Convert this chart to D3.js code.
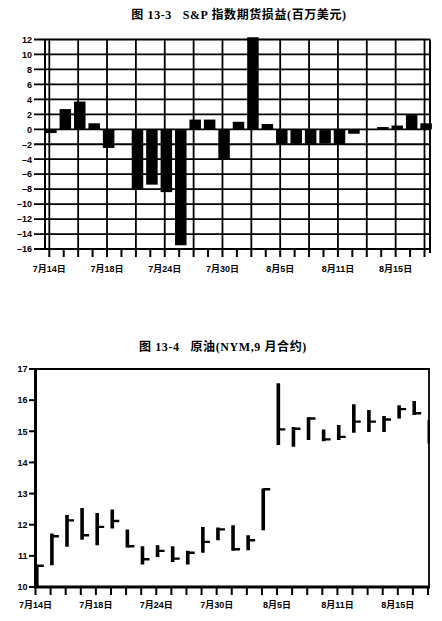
<!DOCTYPE html>
<html><head><meta charset="utf-8">
<script src="https://cdn.jsdelivr.net/npm/d3@7"></script>
<style>
html,body{margin:0;padding:0;background:#fff;}
svg{display:block;}
.t{font-family:"Liberation Serif","Noto Sans CJK SC",serif;font-weight:bold;font-size:12px;fill:#000;}
.lab{font-family:"Liberation Sans","Noto Sans CJK SC",sans-serif;font-weight:bold;font-size:9px;fill:#000;}
</style></head><body>
<script>
// ---- data ----
const days = ["7/14","7/15","7/16","7/17","7/18","7/21","7/22","7/23","7/24","7/25","7/28","7/29","7/30","7/31","8/1","8/4","8/5","8/6","8/7","8/8","8/11","8/12","8/13","8/14","8/15","8/18","8/19"];
const labelDays = ["7/14","7/18","7/24","7/30","8/5","8/11","8/15"];
const tickLabels = ["7月14日","7月18日","7月24日","7月30日","8月5日","8月11日","8月15日"];
const spPnl = [-0.5,2.7,3.7,0.8,-2.5,0,-8.1,-7.4,-8.4,-15.5,1.3,1.3,-4.1,1.0,12.3,0.7,-2.0,-2.0,-2.0,-1.9,-2.0,-0.6,0,0.3,0.5,1.9,0.8];
const spTicks = [12,10,8,6,4,2,0,-2,-4,-6,-8,-10,-12,-14,-16];
const oilHigh  = [10.7,11.72,12.31,12.54,12.38,12.49,11.85,11.31,11.34,11.31,11.16,11.93,11.91,11.98,11.66,13.16,16.54,15.14,15.45,15.06,15.2,15.87,15.68,15.49,15.84,15.97,15.36];
const oilLow   = [10.0,10.7,11.29,11.52,11.34,11.88,11.27,10.72,10.96,10.8,10.72,11.1,11.5,11.16,11.18,11.82,14.56,14.5,14.72,14.68,14.72,14.95,14.98,14.98,15.41,15.52,14.61];
const oilClose = [10.68,11.63,12.14,11.66,11.93,12.12,11.31,10.89,11.16,10.91,11.10,11.45,11.85,11.21,11.50,13.14,15.06,15.08,15.41,14.74,14.82,15.31,15.31,15.38,15.71,15.58,14.9];
const oilTicks = [10,11,12,13,14,15,16,17];
const title1 = "图 13-3\u00a0\u00a0\u00a0S&P 指数期货损益(百万美元)";
const title2 = "图 13-4\u00a0\u00a0\u00a0原油(NYM,9 月合约)";

const svg = d3.select("body").append("svg").attr("width",442).attr("height",621);
const idx = days.map((d,i)=>i);

// ---- chart 1 ----
{
  const x = d3.scaleLinear().domain([0,26]).range([49.3,424.5]);
  const y = d3.scaleLinear().domain([-16,12]).range([249,39.5]);
  const g = svg.append("g");
  const L = 45, R = 430;
  svg.append("text").attr("class","t").attr("x",239).attr("y",19).attr("text-anchor","middle")
     .attr("letter-spacing","0.6").text(title1);
  // horizontal grid
  g.selectAll("line.h").data(spTicks).join("line")
    .attr("x1",34).attr("x2",R).attr("y1",d=>y(d)).attr("y2",d=>y(d))
    .attr("stroke","#000").attr("stroke-width",d=>d===12||d===-16?2.2:1.8);
  // vertical grid every 2 days
  g.selectAll("line.v").data(idx.filter(i=>i%2===0)).join("line")
    .attr("x1",d=>x(d)).attr("x2",d=>x(d)).attr("y1",y(12)).attr("y2",y(-16))
    .attr("stroke","#000").attr("stroke-width",1.8);
  // frame sides
  g.append("line").attr("x1",L).attr("x2",L).attr("y1",y(12)).attr("y2",y(-16)).attr("stroke","#000").attr("stroke-width",2);
  g.append("line").attr("x1",R).attr("x2",R).attr("y1",y(12)).attr("y2",y(-16)+4).attr("stroke","#000").attr("stroke-width",2);
  // bottom ticks
  g.selectAll("line.bt").data(idx).join("line")
    .attr("x1",d=>x(d)).attr("x2",d=>x(d)).attr("y1",y(-16)).attr("y2",y(-16)+8)
    .attr("stroke","#000").attr("stroke-width",2);
  // bars
  const bw = 11.5, off = 1.6;
  g.selectAll("rect.b").data(spPnl).join("rect")
    .attr("x",(d,i)=>x(i)+off-bw/2).attr("width",bw)
    .attr("y",d=>y(Math.max(0,d))).attr("height",d=>Math.abs(y(d)-y(0)))
    .attr("fill","#000");
  // y labels
  g.selectAll("text.yl").data(spTicks).join("text").attr("class","lab")
    .attr("x",32).attr("y",d=>y(d)+3.3).attr("text-anchor","end")
    .text(d=>d<0?"\u2013"+Math.abs(d):d);
  // x labels
  g.selectAll("text.xl").data(labelDays).join("text").attr("class","lab")
    .attr("x",d=>x(days.indexOf(d))).attr("y",272).attr("text-anchor","middle")
    .text((d,i)=>tickLabels[i]);
}

// ---- chart 2 ----
{
  const x = d3.scaleLinear().domain([0,26]).range([35.5,428]);
  const y = d3.scaleLinear().domain([10,17]).range([587,369]);
  const g = svg.append("g");
  svg.append("text").attr("class","t").attr("x",223).attr("y",351).attr("text-anchor","middle")
     .attr("letter-spacing","0.6").text(title2);
  // frame
  g.append("line").attr("x1",34).attr("x2",430).attr("y1",y(17)).attr("y2",y(17)).attr("stroke","#000").attr("stroke-width",2.2);
  g.append("line").attr("x1",429).attr("x2",429).attr("y1",y(17)).attr("y2",y(10)).attr("stroke","#000").attr("stroke-width",1.8);
  g.append("line").attr("x1",x(0)).attr("x2",x(0)).attr("y1",y(17)).attr("y2",y(10)+1).attr("stroke","#000").attr("stroke-width",3);
  g.append("line").attr("x1",x(0)-1.5).attr("x2",430).attr("y1",y(10)).attr("y2",y(10)).attr("stroke","#000").attr("stroke-width",3);
  // y ticks
  g.selectAll("line.yt").data(oilTicks).join("line")
    .attr("x1",29).attr("x2",x(0)).attr("y1",d=>y(d)).attr("y2",d=>y(d))
    .attr("stroke","#000").attr("stroke-width",2);
  g.selectAll("text.yl").data(oilTicks).join("text").attr("class","lab")
    .attr("x",27.5).attr("y",d=>y(d)+3.3).attr("text-anchor","end").text(d=>d);
  // x ticks
  g.selectAll("line.xt").data(idx).join("line")
    .attr("x1",d=>x(d)).attr("x2",d=>x(d)).attr("y1",y(10)).attr("y2",y(10)+8)
    .attr("stroke","#000").attr("stroke-width",2);
  g.selectAll("text.xl").data(labelDays).join("text").attr("class","lab")
    .attr("x",d=>x(days.indexOf(d))).attr("y",608).attr("text-anchor","middle")
    .text((d,i)=>tickLabels[i]);
  // HLC bars
  const defs = svg.append("defs");
  defs.append("clipPath").attr("id","cp2").append("rect")
    .attr("x",x(0)-3).attr("y",y(17)).attr("width",430-(x(0)-3)).attr("height",y(10)-y(17));
  const bg = g.append("g").attr("clip-path","url(#cp2)");
  const off = 1.3;
  bg.selectAll("line.hl").data(idx).join("line")
    .attr("x1",i=>x(i)+off).attr("x2",i=>x(i)+off)
    .attr("y1",i=>y(oilHigh[i])).attr("y2",i=>y(oilLow[i]))
    .attr("stroke","#000").attr("stroke-width",3.6);
  bg.selectAll("line.c").data(idx).join("line")
    .attr("x1",i=>x(i)+off).attr("x2",i=>x(i)+off+7)
    .attr("y1",i=>y(oilClose[i])).attr("y2",i=>y(oilClose[i]))
    .attr("stroke","#000").attr("stroke-width",2.4);
}
</script>
</body></html>
